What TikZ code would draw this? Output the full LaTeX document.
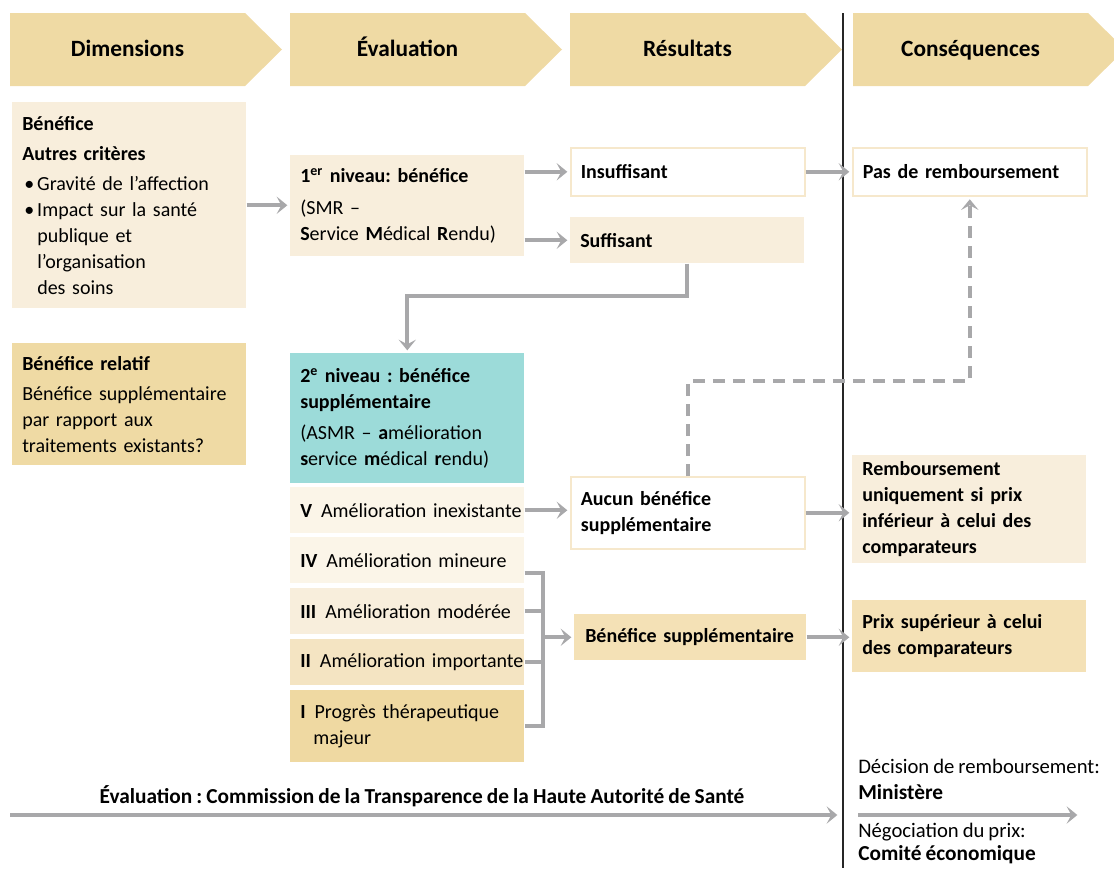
\documentclass[tikz,border=0pt]{standalone}
\usepackage{fontspec}
\setmainfont{Carlito}[WordSpace=0.85]
\usepackage{tikz}
\usetikzlibrary{calc,positioning,arrows.meta}
\definecolor{hdrtan}{HTML}{EFDAA4}
\definecolor{cream}{HTML}{F8EEDC}
\definecolor{palecream}{HTML}{FBF5E8}
\definecolor{midtan}{HTML}{F4E4C2}
\definecolor{deeptan}{HTML}{EFD9A2}
\definecolor{suptan}{HTML}{F4E1B6}
\definecolor{tealbox}{HTML}{9CDBD9}
\definecolor{edgetan}{HTML}{F6E8CC}
\definecolor{linkgray}{HTML}{A8A8AA}
\newdimen\pxu \pxu=0.75pt

\begin{document}
\frenchspacing
\begin{tikzpicture}[x=0.75pt, y=-0.75pt,
  every node/.style={font=\fontsize{15}{19.5}\selectfont},
  cell/.style={rectangle, anchor=north west, inner sep=0pt, minimum width=234\pxu, text width=214\pxu, align=left},
  framed/.style={fill=white, draw=edgetan, line width=1.2pt},
  link/.style={draw=linkgray, line width=3pt, shorten >=2pt, -{Stealth[length=8pt,width=13pt,inset=3.5pt]}},
  dashlink/.style={link, dash pattern=on 9pt off 6pt},
  bar/.style={draw=linkgray, line width=3pt},
  foot/.style={anchor=west, inner sep=0pt, font=\fontsize{15.5}{18}\selectfont},
  footbold/.style={font=\fontsize{16}{18}\selectfont\bfseries}]
  \clip (0,0) rectangle (1114,868);

  % Headers
  \foreach \x/\t/\n in {10/Dimensions/hdim, 290/Évaluation/heval, 570/Résultats/hres, 853/Conséquences/hcons}{
    \fill[hdrtan] (\x,13) -- ++(235,0) -- ++(37,36.5) -- ++(-37,36.5) -- ++(-235,0) -- cycle;
    \node[anchor=base, font=\fontsize{17.5}{20}\selectfont\bfseries] (\n) at (\x+117.5,56) {\t};
  }
  \coordinate (vtop) at (843,13);
  \coordinate (vbot) at (843,868);
  \draw[line width=0.8pt, black!85] (vtop) -- (vbot);

  % Dimensions
  \node[cell, fill=cream, minimum height=206\pxu] (crit) at (12,102) {\textbf{Bénéfice}\\[3pt]
    \textbf{Autres critères}\\[3pt]
    \hspace*{2\pxu}\makebox[13\pxu][l]{\textbullet}Gravité de l’affection\\
    \hspace*{2\pxu}\makebox[13\pxu][l]{\textbullet}Impact sur la santé\\
    \hspace*{15\pxu}publique et\\
    \hspace*{15\pxu}l’organisation\\
    \hspace*{15\pxu}des soins};
  \node[cell, fill=hdrtan, minimum height=122\pxu] (rel) at (12,343) {\textbf{Bénéfice relatif}\\[3pt]
    \mbox{Bénéfice supplémentaire}\\ par rapport aux\\ traitements existants?};

  % Evaluation
  \node[cell, fill=cream, minimum height=101\pxu] (niv1) at (290,155) {\textbf{1\textsuperscript{er} niveau: bénéfice}\\[4pt]
    (SMR –\\ \mbox{\textbf{S}ervice \textbf{M}édical \textbf{R}endu)}};
  \node[cell, fill=tealbox, minimum height=130\pxu] (niv2) at (290,353) {\textbf{2\textsuperscript{e} niveau : bénéfice}\\
    \textbf{supplémentaire}\\[4pt]
    \mbox{(ASMR – \textbf{a}mélioration}\\ \mbox{\textbf{s}ervice \textbf{m}édical \textbf{r}endu)}};
  \node[cell, fill=palecream, minimum height=46\pxu] (lv) at (290,487) {\mbox{\textbf{V}\hspace{9\pxu}Amélioration inexistante}};
  \node[cell, fill=palecream, minimum height=46\pxu] (liv) at (290,537) {\mbox{\textbf{IV}\hspace{9\pxu}Amélioration mineure}};
  \node[cell, fill=cream, minimum height=46\pxu] (liii) at (290,588) {\mbox{\textbf{III}\hspace{9\pxu}Amélioration modérée}};
  \node[cell, fill=midtan, minimum height=46\pxu] (lii) at (290,639) {\mbox{\textbf{II}\hspace{9\pxu}Amélioration importante}};
  \node[cell, fill=deeptan, minimum height=72\pxu] (li) at (290,690) {\mbox{\textbf{I}\hspace{9\pxu}Progrès thérapeutique}\\
    \hspace*{13\pxu}majeur};

  % Resultats
  \node[cell, framed, minimum height=48\pxu] (ins) at (570,147) {\textbf{Insuffisant}};
  \node[cell, fill=cream, minimum height=46\pxu] (suff) at (570,217) {\textbf{Suffisant}};
  \node[cell, framed, minimum height=72\pxu] (aucun) at (570,476) {\textbf{Aucun bénéfice}\\ \textbf{supplémentaire}};
  \node[cell, fill=suptan, minimum height=46\pxu, minimum width=232\pxu, text width=210\pxu] (bsup) at (574,614) {\mbox{\textbf{Bénéfice supplémentaire}}};

  % Consequences
  \node[cell, framed, minimum height=48\pxu] (pas) at (852,147) {\mbox{\textbf{Pas de remboursement}}};
  \node[cell, fill=cream, minimum height=108\pxu] (remb) at (852,455) {\bfseries Remboursement\\ uniquement si prix\\ \mbox{inférieur à celui des}\\ comparateurs};
  \node[cell, fill=suptan, minimum height=72\pxu] (prix) at (852,600) {\bfseries \mbox{Prix supérieur à celui}\\ des comparateurs};

  % Connectors
  \draw[link] (crit.east) -- (crit.east -| niv1.west);
  \draw[link] (niv1.east |- ins.west) -- (ins.west);
  \draw[link] (niv1.east |- suff.west) -- (suff.west);
  \draw[link] (ins.east) -- (pas.west);
  \draw[link] (suff.south) -- ++(0,32) -| (niv2.north);
  \draw[link] (lv.east) -- (lv.east -| aucun.west);
  \draw[dashlink] (aucun.north) -- ++(0,-95) -| (pas.south);
  \draw[link] (aucun.east) -- (aucun.east -| remb.west);
  \coordinate (brk) at (542,637);
  \draw[bar] ($(liv.east)+(0,13)$) -- ($(liv.east)+(18,13)$) |- (li.east);
  \draw[bar] (liii.east) -- (liii.east -| brk);
  \draw[bar] (lii.east) -- (lii.east -| brk);
  \draw[link] (brk |- bsup.west) -- (bsup.west);
  \draw[link] (bsup.east) -- (bsup.east -| prix.west);

  % Bottom
  \node[footbold] (evtxt) at (422,796) {Évaluation : Commission de la Transparence de la Haute Autorité de Santé};
  \coordinate (evL) at (10,815);
  \coordinate (evR) at (840,815);
  \draw[link] (evL) -- (evR);
  \node[foot] (dec) at (858,766) {Décision de remboursement:};
  \node[foot, footbold] (mini) at (858,792) {Ministère};
  \coordinate (decL) at (858,815);
  \coordinate (decR) at (1080,815);
  \draw[link] (decL) -- (decR);
  \node[foot] (nego) at (858,832) {Négociation du prix:};
  \node[foot, footbold] (comi) at (858,855) {Comité économique};
\end{tikzpicture}
\end{document}
